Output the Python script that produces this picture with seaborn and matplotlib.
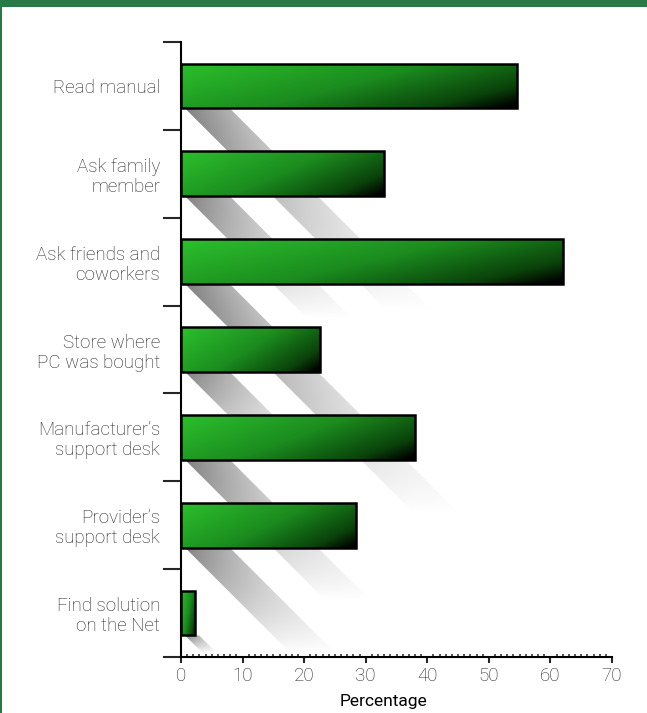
import numpy as np
import pandas as pd
import matplotlib
matplotlib.use("Agg")
import matplotlib.pyplot as plt
import seaborn as sns
from matplotlib.patches import Polygon, Rectangle
from matplotlib.colors import LinearSegmentedColormap

# --- data ---
CATEGORIES = [
    "Read manual",
    "Ask family\nmember",
    "Ask friends and\ncoworkers",
    "Store where\nPC was bought",
    "Manufacturer\u2019s\nsupport desk",
    "Provider\u2019s\nsupport desk",
    "Find solution\non the Net",
]
PERCENT = [54.5, 33, 62, 22.5, 38, 28.5, 2.3]
X_TICKS = [0, 10, 20, 30, 40, 50, 60, 70]

W, H = 647, 713
FRAME_GREEN = "#2a7845"
TEXT = "#222222"

sns.set_style("white")
plt.rcParams["font.family"] = ["Roboto", "DejaVu Sans"]

fig = plt.figure(figsize=(W / 100, H / 100), dpi=100)
ax = fig.add_axes([181 / W, 1 - 657 / H, (612 - 181) / W, (657 - 42) / H])

df = pd.DataFrame({"Reason": CATEGORIES, "Percent": PERCENT})
sns.barplot(data=df, x="Percent", y="Reason", orient="h", width=0.51,
            color="white", edgecolor="black", linewidth=1.8, ax=ax)

ax.set_xlim(0, 70)
ax.set_ylim(len(CATEGORIES) - 0.5, -0.5)

pxx = ax.bbox.width / 70
pxy = ax.bbox.height / len(CATEGORIES)

bar_cmap = LinearSegmentedColormap.from_list(
    "bar", [(0, "#2cc02c"), (0.5, "#1b8c1f"), (0.85, "#0a420a"), (1, "#000000")])

for p in list(ax.patches):
    x0, y0, w, h = p.get_x(), p.get_y(), p.get_width(), p.get_height()

    # gradient fill inside the bar
    XF, YF = np.meshgrid(np.linspace(0, 1, 200), np.linspace(0, 1, 40))
    t = np.clip(0.68 * XF + 0.34 * YF, 0, 1)
    im = ax.imshow(bar_cmap(t), extent=(x0, x0 + w, y0 + h, y0), origin="upper",
                   aspect="auto", interpolation="bilinear", zorder=3)
    im.set_clip_path(p)
    p.set_facecolor("none")
    p.set_zorder(4)

    # diagonal fading shadow under each bar
    bar_len_px = w * pxx
    band_px = min(h * pxy, bar_len_px)
    L_px = max(0.6 * bar_len_px, 18)
    sx0 = x0 + 4 / pxx
    yb = y0 + h
    poly = Polygon([(sx0, yb), (sx0 + band_px / pxx, yb),
                    (sx0 + (band_px + L_px) / pxx, yb + L_px / pxy),
                    (sx0 + L_px / pxx, yb + L_px / pxy)],
                   closed=True, facecolor="none", edgecolor="none", zorder=1)
    ax.add_patch(poly)
    xmax = sx0 + (band_px + L_px) / pxx
    ymax = yb + L_px / pxy
    X, Y = np.meshgrid(np.linspace(sx0, xmax, 220), np.linspace(yb, ymax, 120))
    Xp = (X - sx0) * pxx
    Yp = (Y - yb) * pxy
    tt = np.clip(Yp / L_px, 0, 1)
    uu = np.clip((Xp - Yp) / band_px, 0, 1)
    g0 = 0.5 + 0.2 * uu
    gray = np.clip(g0 + (1 - g0) * tt ** 0.85, 0, 1)
    rgba = np.dstack([gray, gray, gray, np.ones_like(gray)])
    sim = ax.imshow(rgba, extent=(sx0, xmax, ymax, yb), origin="upper",
                    aspect="auto", interpolation="bilinear", zorder=1)
    sim.set_clip_path(poly)

ax.set_xlim(0, 70)
ax.set_ylim(len(CATEGORIES) - 0.5, -0.5)
ax.set_aspect("auto")

# axes, ticks, labels
sns.despine(ax=ax)
for side in ["left", "bottom"]:
    ax.spines[side].set_linewidth(1.5)
    ax.spines[side].set_color("black")
    ax.spines[side].set_zorder(6)

ax.set_xticks(X_TICKS)
ax.set_xticklabels([str(v) for v in X_TICKS])
ax.set_xticks(np.arange(0, 71, 1), minor=True)
ax.tick_params(axis="x", which="both", bottom=True)
ax.tick_params(axis="x", which="major", direction="out", length=4, width=1.5,
               labelsize=13.5, pad=3, labelcolor=TEXT)
ax.tick_params(axis="x", which="minor", direction="in", length=2, width=1.1)

ax.set_yticks(range(len(CATEGORIES)))
ax.set_yticklabels(CATEGORIES)
ax.set_yticks(np.arange(-0.5, len(CATEGORIES), 1), minor=True)
ax.tick_params(axis="y", which="both", left=True)
ax.tick_params(axis="y", which="major", length=0, pad=15, labelsize=13.5,
               labelcolor=TEXT)
ax.tick_params(axis="y", which="minor", direction="out", length=13, width=1.5)
for lab in ax.get_yticklabels() + ax.get_xticklabels():
    lab.set_fontweight("light")
    lab.set_linespacing(1.15)

ax.set_ylabel("")
ax.set_xlabel("Percentage", fontsize=12.5, color="#000000")
ax.xaxis.set_label_coords(0.469, -0.06)

# green frame of the original graphic
fig.patches.append(Rectangle((0, 1 - 7 / H), 1, 7 / H, transform=fig.transFigure,
                             facecolor=FRAME_GREEN, edgecolor="none"))
fig.patches.append(Rectangle((0, 0), 2 / W, 1, transform=fig.transFigure,
                             facecolor=FRAME_GREEN, edgecolor="none"))

fig.savefig("out.png", dpi=100)
